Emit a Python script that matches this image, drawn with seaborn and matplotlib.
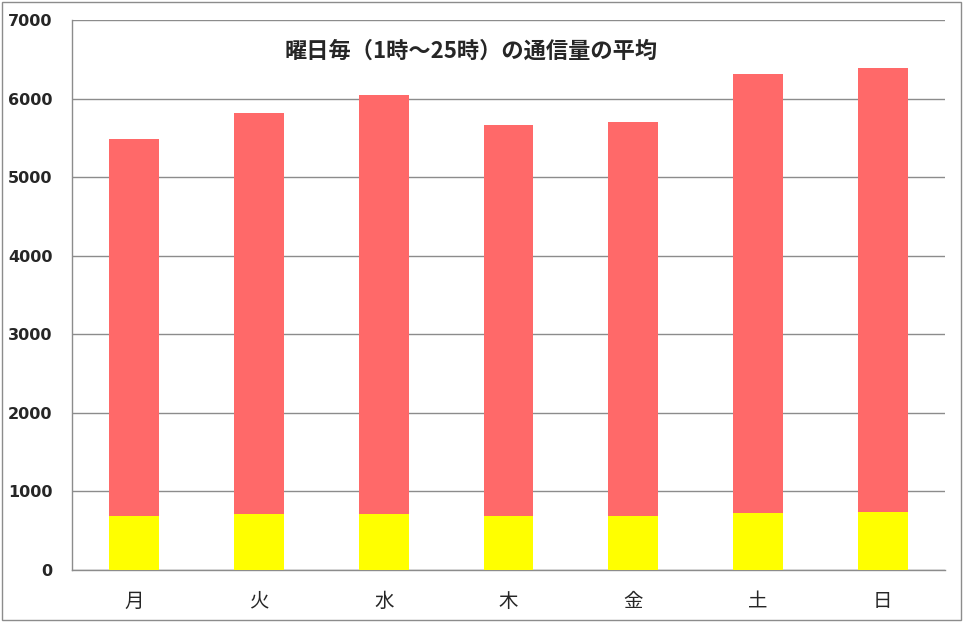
import numpy as np
import pandas as pd
import seaborn as sns
import matplotlib.pyplot as plt
from matplotlib.patches import Rectangle

# 曜日ごとの平均通信量
days = ['月', '火', '水', '木', '金', '土', '日']
total = [5490, 5815, 6045, 5665, 5705, 6315, 6390]   # 赤（合計）
lower = [690, 715, 715, 690, 690, 730, 740]          # 黄（下段）

df = pd.DataFrame({'day': days, 'total': total, 'lower': lower})

sns.set_style('white')
plt.rcParams['font.family'] = ['Noto Sans CJK JP', 'DejaVu Sans']

fig = plt.figure(figsize=(9.63, 6.22), dpi=100)
ax = fig.add_axes([0.0748, 0.0836, 0.9065, 0.8842])

sns.barplot(data=df, x='day', y='total', color='#ff6969', width=0.4,
            saturation=1, linewidth=0, ax=ax, zorder=2)
sns.barplot(data=df, x='day', y='lower', color='#ffff00', width=0.4,
            saturation=1, linewidth=0, ax=ax, zorder=3)

ax.set_xlim(-0.5, 6.5)
ax.set_ylim(0, 7000)
ax.set_yticks(np.arange(0, 7001, 1000))
ax.yaxis.grid(True, color='#8c8c8c', linewidth=1, zorder=0)
ax.set_axisbelow(True)
ax.set_xlabel('')
ax.set_ylabel('')

for s in ['top', 'right']:
    ax.spines[s].set_visible(False)
for s in ['left', 'bottom']:
    ax.spines[s].set_color('#8c8c8c')
    ax.spines[s].set_linewidth(1)

# x軸の目盛りはカテゴリの境界
ax.set_xticks(np.arange(-0.5, 7, 1), minor=True)
ax.tick_params(axis='x', which='minor', length=6, color='#8c8c8c', width=1)
ax.tick_params(axis='x', which='major', length=0, pad=15)
ax.tick_params(axis='y', length=5, color='#8c8c8c', width=1, pad=9)

for lab in ax.get_xticklabels():
    lab.set_fontsize(14)
for lab in ax.get_yticklabels():
    lab.set_fontsize(11.5)
    lab.set_fontweight('bold')
    lab.set_family('DejaVu Sans')

ax.text(0.457, 0.943, '曜日毎（1時～25時）の通信量の平均', transform=ax.transAxes,
        ha='center', va='center', fontsize=16, fontweight='bold')

# 外枠
fig.patches.append(Rectangle((0.002, 0.003), 0.996, 0.994, transform=fig.transFigure,
                             fill=False, edgecolor='#8c8c8c', linewidth=1))

fig.savefig('out.png', dpi=100)
